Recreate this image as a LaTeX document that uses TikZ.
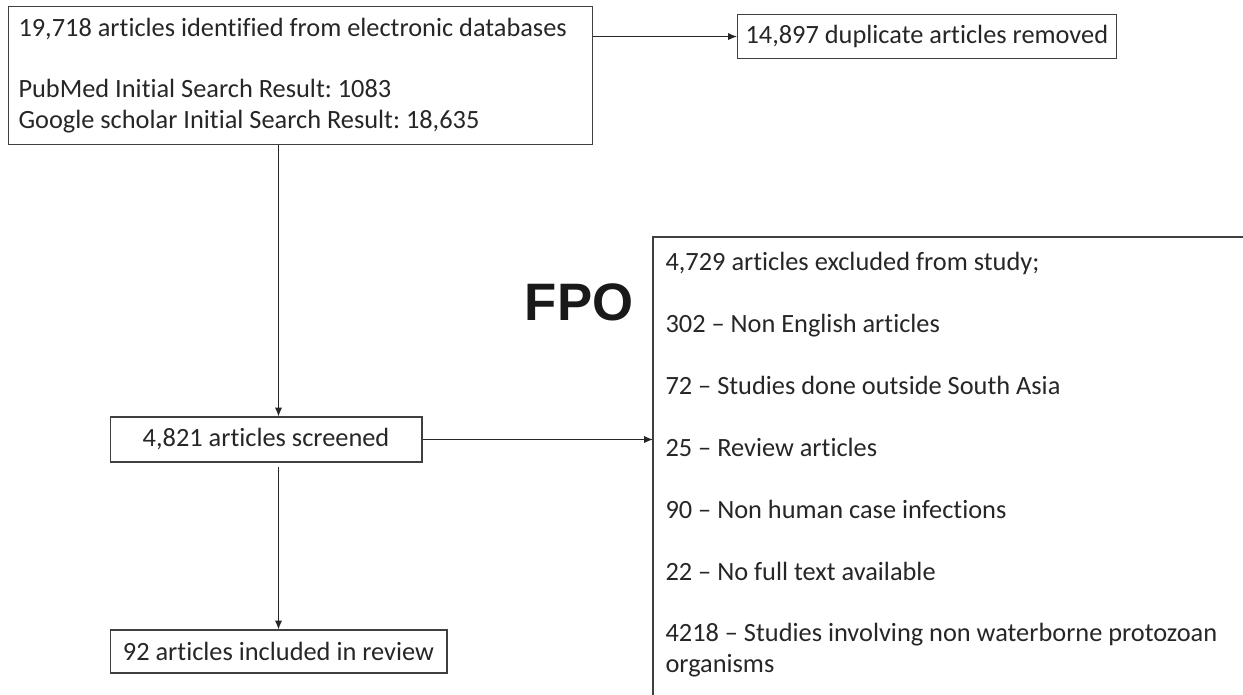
\documentclass[tikz,border=0pt]{standalone}
\usepackage{fontspec}
\setmainfont{Carlito}[Ligatures=NoCommon]
\newfontfamily\fpofont{Liberation Sans}
\usetikzlibrary{arrows.meta}
\frenchspacing
\newcommand\boxfont{\fontsize{15pt}{17.6pt}\selectfont}
\newcommand\boxspace{\setlength\spaceskip{0.226em plus 0.05em minus 0.05em}}

\begin{document}
\begin{tikzpicture}[x=0.02cm,y=-0.02cm,
        box/.style={draw=black!75,line width=0.6pt,inner sep=0pt,text=black!85,font=\boxfont,execute at begin node=\boxspace},
        arr/.style={-{Latex[length=5pt,width=4pt]},black!85,line width=0.6pt}]
    \useasboundingbox (0,0) rectangle (1243,694);
    \clip (0,0) rectangle (1243,694);
        % boxes
        \node[box,anchor=north west,minimum width=11.68cm,minimum height=2.76cm,text width=11.28cm,inner xsep=0.2cm,align=left] (S) at (8,6)
            {19,718 articles identified from electronic databases\\[17.6pt]
             PubMed Initial Search Result: 1083\\
             Google scholar Initial Search Result: 18,635};
        \node[box,anchor=north west,minimum width=4.3cm,minimum height=0.88cm,inner xsep=0.16cm] (R) at (737,14){14,897 duplicate articles removed};
        \node[box,minimum width=6.24cm,minimum height=0.9cm] (Sc) at (266,439.5){4,821 articles screened};
        \node[box,minimum width=6.74cm,minimum height=0.86cm] (I) at (278.5,651.5){92 articles included in review};
        \node[box,draw=none,anchor=north west,text width=12.4cm,inner xsep=0.24cm,inner ysep=0.3cm,align=left] (X) at (653,237)
            {4,729 articles excluded from study;\\[17.6pt]
             302 -- Non English articles\\[17.6pt]
             72 -- Studies done outside South Asia\\[17.6pt]
             25 -- Review articles\\[17.6pt]
             90 -- Non human case infections\\[17.6pt]
             22 -- No full text available\\[17.6pt]
             4218 -- Studies involving non waterborne protozoan\\
             organisms};
        \draw[black!75,line width=0.6pt] (X.north west) rectangle ++(700,600);
        \node[font=\fpofont\bfseries\fontsize{30}{36}\selectfont,text=black!90] (F) at (579,302){FPO};
        % arrows
        \draw[arr] (S.east |- R.west) to (R.west);
        \draw[arr] (S.south -| I.north) to (Sc.north -| I.north);
        \draw[arr,shorten <=2.5pt] (Sc.south -| I.north) to (I.north);
        \draw[arr] (Sc.east) to (Sc.east -| X.west);
    \end{tikzpicture}
\end{document}
